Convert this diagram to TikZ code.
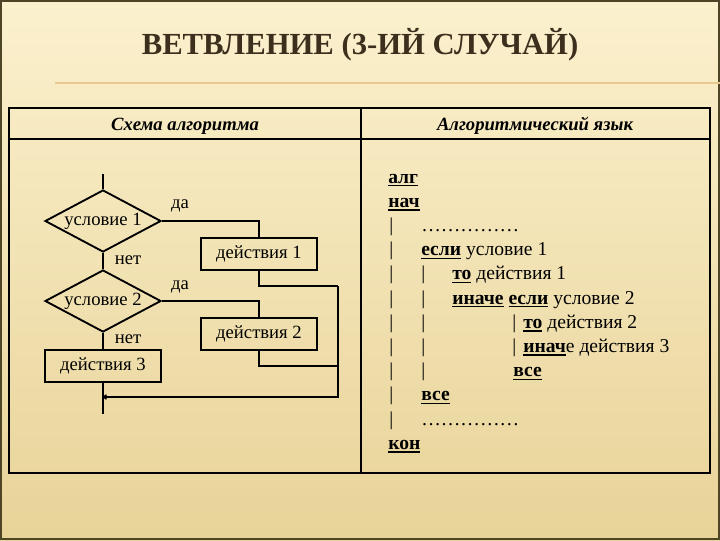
\documentclass[tikz,border=0pt]{standalone}
\usepackage{fontspec}
\setmainfont{Liberation Serif}
\usetikzlibrary{shapes.geometric,arrows.meta}

\definecolor{papertop}{HTML}{FBF1CE}
\definecolor{paperbot}{HTML}{E8D398}
\definecolor{frame}{HTML}{4E4426}
\definecolor{titlecol}{HTML}{3D2F1E}
\definecolor{ruleline}{HTML}{E9C98C}

\newcommand{\kw}[1]{\setbox0\hbox{\textbf{#1}}\rlap{\rule[-2.6pt]{\wd0}{1.1pt}}\box0\relax}

\begin{document}
\begin{tikzpicture}[x=0.75pt,y=-0.75pt,
    flow/.style={line width=1.4pt},
    cond/.style={diamond,draw,line width=1.4pt,aspect=1.9,inner sep=0pt,
        minimum width=87pt,minimum height=46.5pt,font=\fontsize{14}{16}\selectfont},
    act/.style={rectangle,draw,line width=1.4pt,inner sep=0pt,
        minimum width=87pt,minimum height=24pt,font=\fontsize{14}{16}\selectfont},
    lbl/.style={font=\fontsize{14}{16}\selectfont,inner sep=0pt},
    code/.style={anchor=base west,inner sep=0pt,font=\fontsize{14.7}{16}\selectfont},
    head/.style={font=\fontsize{14}{16}\selectfont\bfseries\itshape,inner sep=0pt}]
\useasboundingbox (0,0) rectangle (720,540);
% background of the slide
\shade[top color=papertop,bottom color=paperbot] (0,0) rectangle (720,540);
\draw[frame,line width=1.5pt] (1,1) rectangle (719,539);
\node[font=\fontsize{23}{26}\selectfont\bfseries,text=titlecol] (title) at (360,45) {ВЕТВЛЕНИЕ (3-ИЙ СЛУЧАЙ)};
\coordinate (tl1) at (55,83);
\coordinate (tl2) at (720,83);
\draw[ruleline,line width=1.5pt] (tl1) -- (tl2);

% table
\draw[line width=0.8pt] (9,108) rectangle (710,473);
\draw[line width=0.8pt] (9,139) -- (710,139);
\draw[line width=0.8pt] (361,108) -- (361,473);
\node[head] (h1) at (185,126) {Схема алгоритма};
\node[head] (h2) at (535,126) {Алгоритмический язык};

% flowchart
\coordinate (start) at (103,174);
\node[cond] (c1) at (103,221) {условие 1};
\node[cond] (c2) at (103,301) {условие 2};
\node[act] (a1) at (259,254) {действия 1};
\node[act] (a2) at (259,334) {действия 2};
\node[act] (a3) at (103,366) {действия 3};
\coordinate (stop) at (103,414);
\coordinate (j1) at (338,286);
\coordinate (j2) at (338,366);
\coordinate (j3) at (338,397);
\coordinate (m) at (103,397);
\draw[flow] (start) -- (c1.north);
\draw[flow] (c1.east) -| (a1.north);
\draw[flow] (c1.south) -- (c2.north);
\draw[flow] (c2.east) -| (a2.north);
\draw[flow] (c2.south) -- (a3.north);
\draw[flow] (a3.south) -- (stop);
\draw[flow] (a1.south) |- (j1);
\draw[flow] (a2.south) |- (j2);
\draw[flow,-{To[length=3pt,width=4pt]}] (j1) -- (j3) -- (m);
\node[lbl] (yes1) at (180,206) {да};
\node[lbl] (no1) at (128,260) {нет};
\node[lbl] (yes2) at (180,287) {да};
\node[lbl] (no2) at (128,339) {нет};

% algorithmic language
\node[code] (l0) at (388,183) {\kw{алг}};
\node[code] (l1) at (388,207.2) {\kw{нач}};
\foreach \i in {2,...,10}
  \node[code] (bar\i) at (389,{183+24.2*\i}) {|};
\foreach \i in {4,...,8}
  \node[code] (barb\i) at (421,{183+24.2*\i}) {|};
\foreach \i in {6,7}
  \node[code] (barc\i) at (512,{183+24.2*\i}) {|};
\node[code] (l2) at (421,231.4) {……………};
\node[code] (l3) at (421,255.6) {\kw{если} условие 1};
\node[code] (l4) at (452,279.8) {\kw{то} действия 1};
\node[code] (l5) at (452,304) {\kw{иначе} \kw{если} условие 2};
\node[code] (l6) at (523,328.2) {\kw{то} действия 2};
\node[code] (l7) at (523,352.4) {\kw{инач}е действия 3};
\node[code] (l8) at (513,376.6) {\kw{все}};
\node[code] (l9) at (421,400.8) {\kw{все}};
\node[code] (l10) at (421,425) {……………};
\node[code] (l11) at (388,449.2) {\kw{кон}};
\end{tikzpicture}
\end{document}
